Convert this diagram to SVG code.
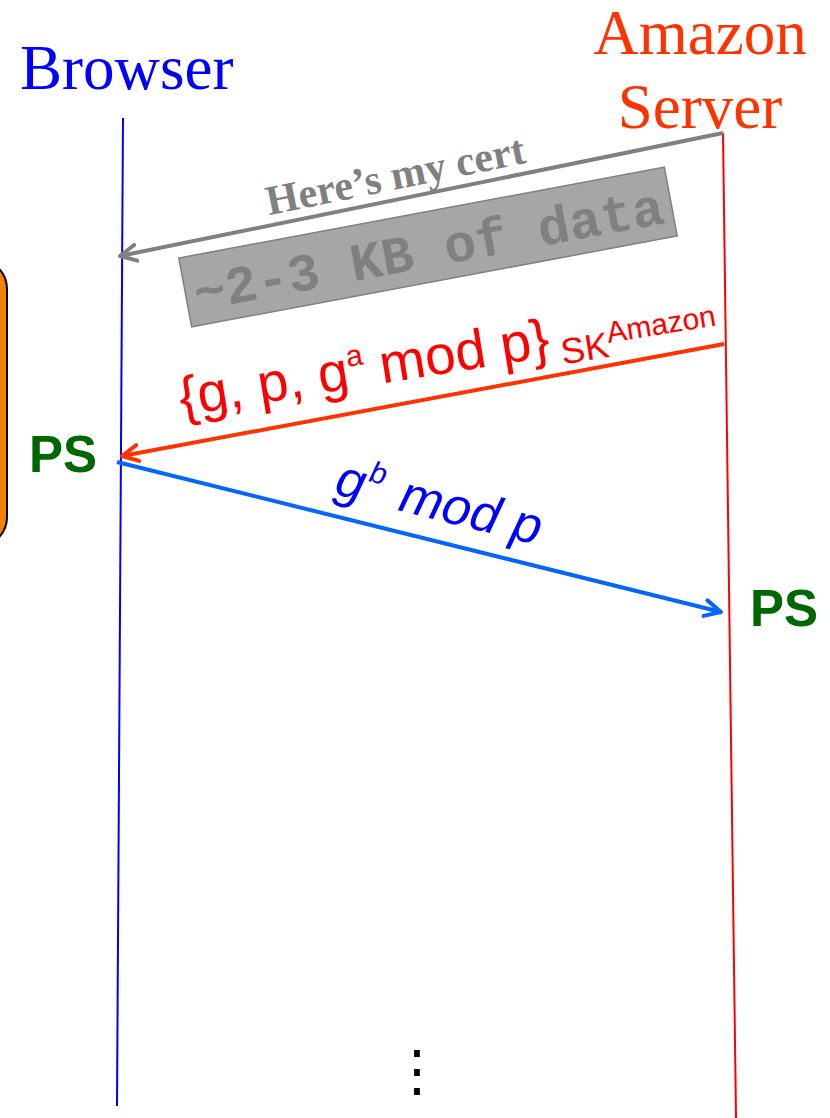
<svg xmlns="http://www.w3.org/2000/svg" width="830" height="1118" viewBox="0 0 830 1118">
  <style>
    .title { font-family: "Liberation Serif", "Times New Roman", serif; font-size: 63px; }
    .ps { font-family: "Liberation Sans", Arial, sans-serif; font-weight: bold; font-size: 51px; fill: #006600; }
    .lbl { font-family: "Liberation Sans", Arial, sans-serif; }
    .msg { fill: none; stroke-width: 4; }
  </style>
  <defs>
    <marker id="headGray" viewBox="-18 -11 22 22" markerWidth="22" markerHeight="22" refX="0" refY="0" orient="auto" markerUnits="userSpaceOnUse">
      <path d="M -16 -8 L 0 0 L -16 8" fill="none" stroke="#808080" stroke-width="4" stroke-linecap="round" stroke-linejoin="round"/>
    </marker>
    <marker id="headRed" viewBox="-18 -11 22 22" markerWidth="22" markerHeight="22" refX="0" refY="0" orient="auto" markerUnits="userSpaceOnUse">
      <path d="M -16 -8 L 0 0 L -16 8" fill="none" stroke="#ff3300" stroke-width="4" stroke-linecap="round" stroke-linejoin="round"/>
    </marker>
    <marker id="headBlue" viewBox="-18 -11 22 22" markerWidth="22" markerHeight="22" refX="0" refY="0" orient="auto" markerUnits="userSpaceOnUse">
      <path d="M -16 -8 L 0 0 L -16 8" fill="none" stroke="#0066ff" stroke-width="4" stroke-linecap="round" stroke-linejoin="round"/>
    </marker>
  </defs>

  <rect width="830" height="1118" fill="#ffffff"/>

  <!-- side panel, mostly off the left edge -->
  <rect x="-200" y="259" width="207" height="288" rx="30" ry="30" fill="#f78000" stroke="#000000" stroke-width="2"/>

  <!-- participants and their lifelines -->
  <g id="browser">
    <text class="title" x="20" y="89" fill="#0000ff">Browser</text>
    <line x1="123" y1="118" x2="117" y2="1106" stroke="#0000ff" stroke-width="2"/>
  </g>
  <g id="server">
    <text class="title" x="700" y="54" fill="#ff3300" text-anchor="middle">Amazon</text>
    <text class="title" x="700" y="128" fill="#ff3300" text-anchor="middle">Server</text>
    <line x1="723" y1="133" x2="736" y2="1118" stroke="#ff0000" stroke-width="2"/>
  </g>

  <!-- messages -->
  <g id="connectors">
    <line class="msg" x1="723" y1="133" x2="120" y2="256" stroke="#808080" marker-end="url(#headGray)"/>
    <line class="msg" x1="724" y1="344" x2="122" y2="456" stroke="#ff3300" marker-end="url(#headRed)"/>
    <line class="msg" x1="117" y1="462" x2="721" y2="612" stroke="#0066ff" marker-end="url(#headBlue)"/>
  </g>

  <g id="cert-label">
    <text x="398" y="189" transform="rotate(-11.5 398 189)" text-anchor="middle" font-family="'Liberation Serif', 'Times New Roman', serif" font-weight="bold" font-size="42" fill="#808080">Here’s my cert</text>
  </g>

  <g id="cert-size" transform="translate(428 247) rotate(-10.6)">
    <rect x="-247" y="-35" width="494" height="70" fill="#a6a6a6" stroke="#808080" stroke-width="1.5"/>
    <text x="0" y="20" text-anchor="middle" font-family="'Liberation Mono', 'Courier New', monospace" font-weight="bold" font-size="53" fill="#808080">~2-3 KB of data</text>
  </g>

  <g id="dh-params" transform="translate(182 416) rotate(-9.2)">
    <text class="lbl" x="0" y="0" fill="#ff0000" font-size="55">{g, p, g<tspan font-size="30" dy="-22">a</tspan><tspan dy="22"> mod p}</tspan><tspan font-size="36" dy="10"> SK</tspan><tspan font-size="30" dy="-14">Amazon</tspan></text>
  </g>

  <g id="dh-reply" transform="translate(333 494) rotate(14)">
    <text class="lbl" x="0" y="0" fill="#0000ff" font-size="52" font-style="italic">g<tspan font-size="30" dy="-21" dx="2">b</tspan><tspan dy="21" dx="4"> mod p</tspan></text>
  </g>

  <g id="ps-browser">
    <text class="ps" x="29" y="472">PS</text>
  </g>
  <g id="ps-server">
    <text class="ps" x="750" y="626">PS</text>
  </g>

  <g id="continuation">
    <text x="417" y="1090" text-anchor="middle" font-family="'DejaVu Sans', sans-serif" font-size="56" fill="#000000">⋮</text>
  </g>
</svg>
